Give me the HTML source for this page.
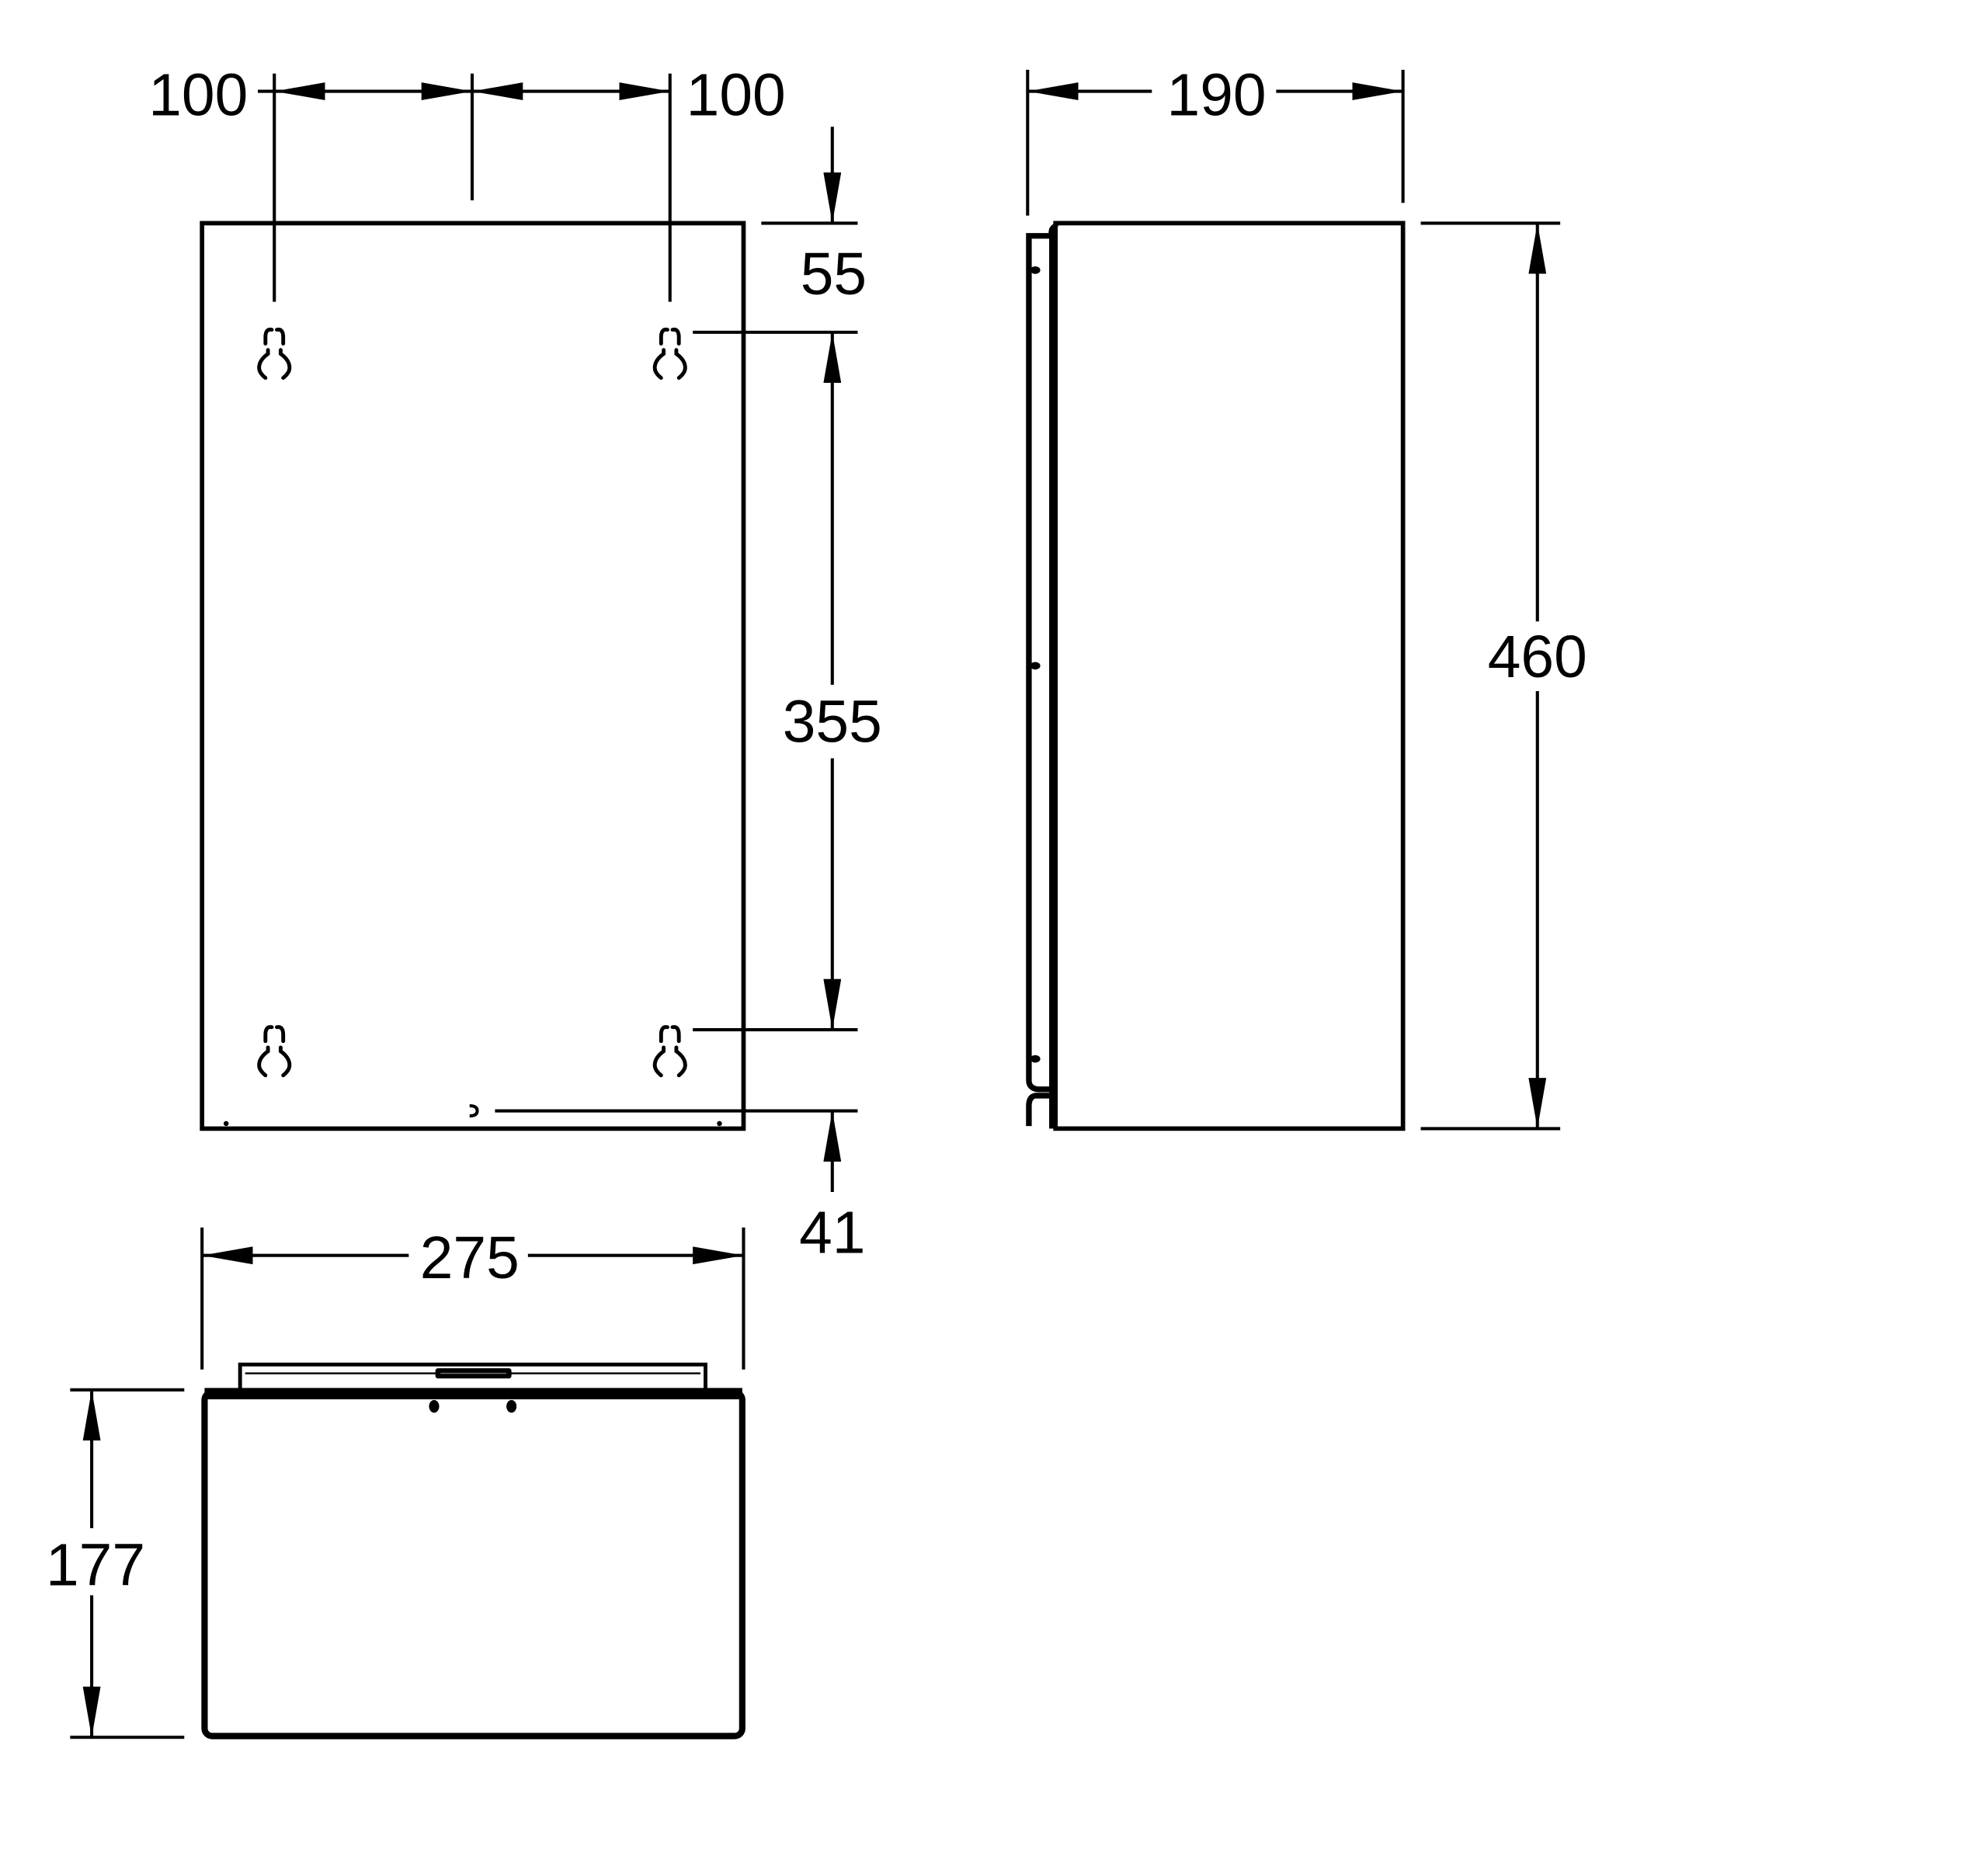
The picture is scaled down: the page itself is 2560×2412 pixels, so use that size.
<!DOCTYPE html>
<html><head><style>html,body{margin:0;padding:0;background:#fff}svg{display:block}</style></head>
<body>
<svg width="2560" height="2412" viewBox="0 0 1567 1477" xmlns="http://www.w3.org/2000/svg">
<defs>
<marker id="a" viewBox="0 0 40 14" refX="40" refY="7" markerWidth="40" markerHeight="14" markerUnits="userSpaceOnUse" orient="auto-start-reverse"><path d="M0,0 L40,7 L0,14 Z" fill="#000"/></marker>
<g id="k" fill="none" stroke="#000" stroke-width="3" stroke-linecap="round">
<path d="M-2,-18 Q-7,-19 -7,-12 L-7,-7 M2,-18 Q7,-19 7,-12 L7,-7"/>
<path d="M-5,-2 L-5,1 Q-12,6 -12,12 Q-12,16 -7,20 M5,-2 L5,1 Q12,6 12,12 Q12,16 7,20"/>
</g>
</defs>
<g font-family="Liberation Sans, sans-serif" font-size="47" text-anchor="middle" fill="#000">
<text x="156" y="91">100</text>
<text x="580" y="91">100</text>
<text x="657" y="232">55</text>
<text x="656" y="585">355</text>
<text x="656" y="988">41</text>
<text x="370" y="1008">275</text>
<text x="75" y="1250">177</text>
<text x="959" y="91">190</text>
<text x="1212" y="534">460</text>
</g>
<g stroke="#000" stroke-width="2.5" fill="none">
<line x1="216" y1="58" x2="216" y2="238"/>
<line x1="372" y1="58" x2="372" y2="158"/>
<line x1="528" y1="58" x2="528" y2="238"/>
<line x1="203" y1="72" x2="216" y2="72"/>
<line x1="216" y1="72" x2="372" y2="72" marker-start="url(#a)" marker-end="url(#a)"/>
<line x1="372" y1="72" x2="528" y2="72" marker-start="url(#a)" marker-end="url(#a)"/>
<line x1="656" y1="100" x2="656" y2="176" marker-end="url(#a)"/>
<line x1="600" y1="176" x2="676" y2="176"/>
<line x1="546" y1="262" x2="676" y2="262"/>
<line x1="656" y1="262" x2="656" y2="540" marker-start="url(#a)"/>
<line x1="656" y1="598" x2="656" y2="812" marker-end="url(#a)"/>
<line x1="546" y1="812" x2="676" y2="812"/>
<line x1="390" y1="876" x2="676" y2="876"/>
<line x1="656" y1="940" x2="656" y2="876" marker-end="url(#a)"/>
<line x1="159" y1="968" x2="159" y2="1080"/>
<line x1="586" y1="968" x2="586" y2="1080"/>
<line x1="159" y1="990" x2="322" y2="990" marker-start="url(#a)"/>
<line x1="416" y1="990" x2="586" y2="990" marker-end="url(#a)"/>
<line x1="55" y1="1096" x2="145" y2="1096"/>
<line x1="55" y1="1370" x2="145" y2="1370"/>
<line x1="72" y1="1096" x2="72" y2="1205" marker-start="url(#a)"/>
<line x1="72" y1="1258" x2="72" y2="1370" marker-end="url(#a)"/>
<line x1="810" y1="55" x2="810" y2="170"/>
<line x1="1106" y1="55" x2="1106" y2="160"/>
<line x1="810" y1="72" x2="908" y2="72" marker-start="url(#a)"/>
<line x1="1006" y1="72" x2="1106" y2="72" marker-end="url(#a)"/>
<line x1="1120" y1="176" x2="1230" y2="176"/>
<line x1="1120" y1="890" x2="1230" y2="890"/>
<line x1="1212" y1="176" x2="1212" y2="490" marker-start="url(#a)"/>
<line x1="1212" y1="545" x2="1212" y2="890" marker-end="url(#a)"/>
</g>
<rect x="159" y="176" width="427" height="714" fill="none" stroke="#000" stroke-width="3.5"/>
<use href="#k" x="216" y="278"/>
<use href="#k" x="528" y="278"/>
<use href="#k" x="216" y="828"/>
<use href="#k" x="528" y="828"/>
<path d="M370,872 Q376,872 376,876 Q376,880 370,880" fill="none" stroke="#000" stroke-width="2.5"/>
<circle cx="178" cy="886" r="2" fill="#000"/><circle cx="567" cy="886" r="2" fill="#000"/>
<path d="M832,176 L1106,176 L1106,890 L832,890 Z" fill="none" stroke="#000" stroke-width="3.5"/>
<path d="M828,184 Q828,178 834,177" fill="none" stroke="#000" stroke-width="3"/>
<line x1="829" y1="180" x2="829" y2="890" stroke="#000" stroke-width="4"/>
<path d="M829,186 L811,186 L811,852 Q811,858 818,859 L829,859" fill="none" stroke="#000" stroke-width="4.5"/>
<path d="M829,864 L816,864 Q811,865 811,872 L811,888" fill="none" stroke="#000" stroke-width="4.5"/>
<ellipse cx="816" cy="213" rx="4" ry="3" fill="#000"/>
<ellipse cx="816" cy="525" rx="4" ry="3" fill="#000"/>
<ellipse cx="816" cy="835" rx="4" ry="3" fill="#000"/>
<path d="M189,1098 L189,1076 L556,1076 L556,1098" fill="none" stroke="#000" stroke-width="3"/>
<line x1="193" y1="1083" x2="552" y2="1083" stroke="#000" stroke-width="1.5"/>
<rect x="343" y="1079" width="60" height="8" rx="2" fill="#000"/>
<line x1="347" y1="1083" x2="399" y2="1083" stroke="#666" stroke-width="1"/>
<rect x="161" y="1098" width="424" height="271" rx="6" fill="none" stroke="#000" stroke-width="5"/>
<line x1="161" y1="1099" x2="585" y2="1099" stroke="#000" stroke-width="9"/>
<ellipse cx="342" cy="1109" rx="4" ry="5" fill="#000"/>
<ellipse cx="403" cy="1109" rx="4" ry="5" fill="#000"/>
</svg>
</body></html>
